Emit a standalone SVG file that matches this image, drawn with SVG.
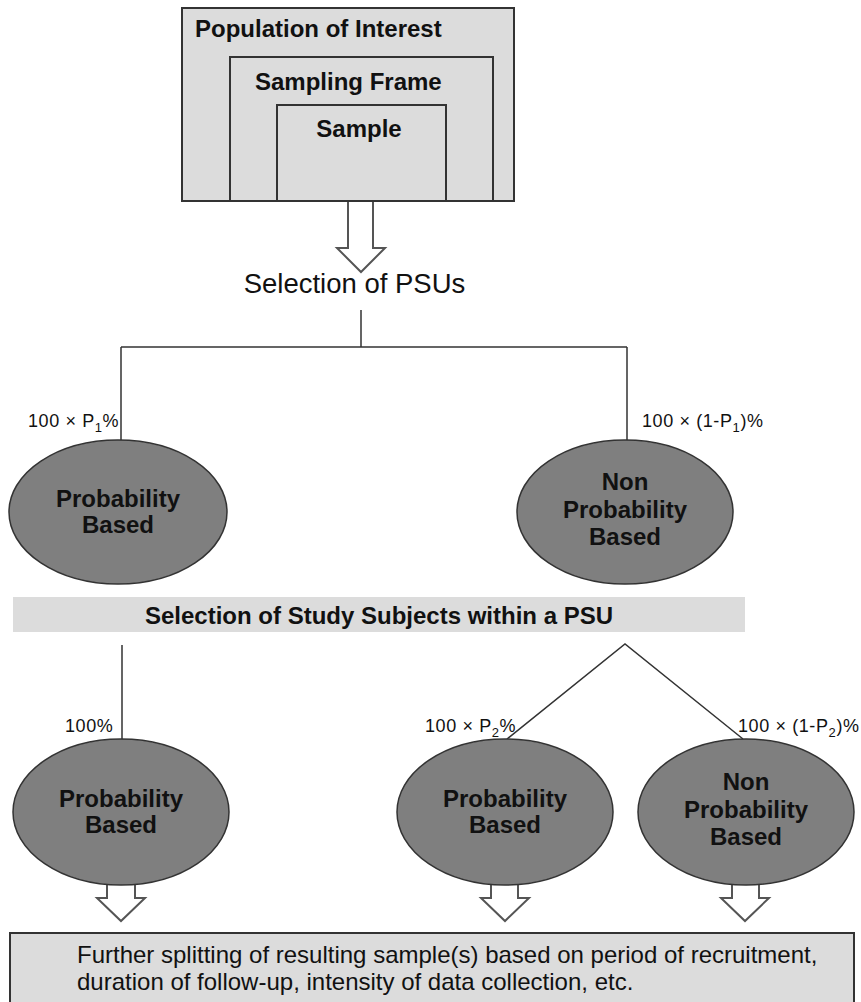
<svg xmlns="http://www.w3.org/2000/svg" width="861" height="1002" viewBox="0 0 861 1002">
<style>
.box{fill:#dcdcdc;stroke:#333;stroke-width:2}
.ell{fill:#7f7f7f;stroke:#333;stroke-width:1.5}
.band{fill:#dcdcdc;stroke:none}
.ln{stroke:#333;stroke-width:1.5;fill:none}
.harrow{fill:#fff;stroke:#555;stroke-width:2;stroke-linejoin:miter}
.bt{font-family:"Liberation Sans",Arial,sans-serif;font-weight:bold;font-size:24px;fill:#111}
.ct{text-anchor:middle}
.rt{font-family:"Liberation Sans",Arial,sans-serif;font-size:24px;fill:#111}
.lab{font-family:"Liberation Sans",Arial,sans-serif;font-size:18px;letter-spacing:0.6px;fill:#111}
</style>
<rect width="861" height="1002" fill="#fff"/>
<g id="population">
<rect class="box" x="182" y="8" width="332" height="193"/>
<text class="bt" x="195" y="37">Population of Interest</text>
</g>
<g id="frame">
<rect class="box" x="230" y="57" width="263" height="144"/>
<text class="bt" x="255" y="90">Sampling Frame</text>
</g>
<g id="sample">
<rect class="box" x="277" y="105" width="169" height="96"/>
<text class="bt ct" x="359" y="137">Sample</text>
</g>
<g id="connectors">
<path class="harrow" d="M348,202 V248 H337 L361,272 L385,248 H373 V202"/>
<path class="ln" d="M361,310 V347 M121,347 H627 M121,347 V440 M627,347 V440"/>
<path class="ln" d="M122,645 V740 M507,739 L625,644 L743,739"/>
<path class="harrow" d="M107,885 V898 H97 L121,921 L145,898 H135 V885"/>
<path class="harrow" d="M491,885 V898 H481 L505,921 L529,898 H518 V885"/>
<path class="harrow" d="M732,885 V898 H721 L745,921 L769,898 H759 V885"/>
</g>
<g id="selection-psus">
<text class="rt ct" x="354.5" y="293" style="font-size:27.5px">Selection of PSUs</text>
</g>
<g id="label-p1">
<text class="lab" x="28" y="427">100 × P<tspan font-size="13" dy="5">1</tspan><tspan dy="-5">%</tspan></text>
</g>
<g id="label-1mp1">
<text class="lab" x="642" y="427">100 × (1-P<tspan font-size="13" dy="5">1</tspan><tspan dy="-5">)%</tspan></text>
</g>
<g id="psu-prob">
<ellipse class="ell" cx="118" cy="512" rx="109" ry="72"/>
<text class="bt ct" x="118" y="507">Probability</text>
<text class="bt ct" x="118" y="533">Based</text>
</g>
<g id="psu-nonprob">
<ellipse class="ell" cx="625" cy="512" rx="108" ry="72"/>
<text class="bt ct" x="625" y="490">Non</text>
<text class="bt ct" x="625" y="518">Probability</text>
<text class="bt ct" x="625" y="545">Based</text>
</g>
<g id="subjects-band">
<rect class="band" x="13" y="597" width="732" height="35"/>
<text class="bt ct" x="379" y="624">Selection of Study Subjects within a PSU</text>
</g>
<g id="label-100">
<text class="lab" x="65" y="732">100%</text>
</g>
<g id="label-p2">
<text class="lab" x="425" y="732">100 × P<tspan font-size="13" dy="5">2</tspan><tspan dy="-5">%</tspan></text>
</g>
<g id="label-1mp2">
<text class="lab" x="738" y="732">100 × (1-P<tspan font-size="13" dy="5">2</tspan><tspan dy="-5">)%</tspan></text>
</g>
<g id="subj-prob-left">
<ellipse class="ell" cx="121" cy="812" rx="108" ry="73"/>
<text class="bt ct" x="121" y="807">Probability</text>
<text class="bt ct" x="121" y="833">Based</text>
</g>
<g id="subj-prob-mid">
<ellipse class="ell" cx="505" cy="812" rx="108" ry="73"/>
<text class="bt ct" x="505" y="807">Probability</text>
<text class="bt ct" x="505" y="833">Based</text>
</g>
<g id="subj-nonprob">
<ellipse class="ell" cx="746" cy="812" rx="108" ry="73"/>
<text class="bt ct" x="746" y="790">Non</text>
<text class="bt ct" x="746" y="818">Probability</text>
<text class="bt ct" x="746" y="845">Based</text>
</g>
<g id="further">
<rect class="box" x="10" y="933" width="844" height="80"/>
<text class="rt" x="77" y="963">Further splitting of resulting sample(s) based on period of recruitment,</text>
<text class="rt" x="77" y="990">duration of follow-up, intensity of data collection, etc.</text>
</g>
</svg>
